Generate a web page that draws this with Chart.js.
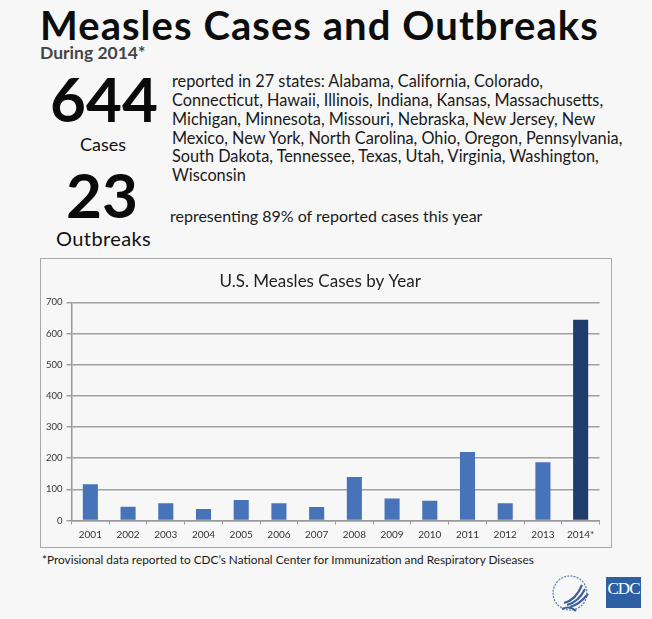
<!DOCTYPE html>
<html>
<head>
<meta charset="utf-8">
<script src="https://cdn.jsdelivr.net/npm/chart.js@4"></script>
<style>
  html, body { margin: 0; padding: 0; }
  body { width: 652px; height: 619px; background: #f7f7f7; position: relative; overflow: hidden; font-family: Lato, "Open Sans", sans-serif; color: #111; }
  .abs { position: absolute; white-space: nowrap; line-height: 1; }
  #title { left: 40px; top: 4.5px; font-size: 40px; font-weight: 700; letter-spacing: 1.05px; color: #0d0d0d; }
  #sub { left: 40px; top: 44px; font-size: 17.5px; font-weight: 700; color: #454545; }
  .big { font-size: 62px; font-weight: 700; color: #0a0a0a; }
  #n644 { left: 50px; top: 67px; }
  #n23 { left: 66px; top: 163px; }
  #cases { left: 80px; top: 135px; font-size: 18px; }
  #outb { left: 56px; top: 228px; font-size: 20px; letter-spacing: 0.4px; }
  #states { left: 172px; top: 72.3px; font-size: 16.3px; line-height: 18.8px; color: #1a1a1a; }
  #repr { left: 170px; top: 207.5px; font-size: 16px; color: #1a1a1a; }
  #box { left: 40px; top: 258px; width: 572px; height: 290px; border: 1.5px solid #a9a9a9; box-sizing: border-box; }
  #wrap { position: absolute; left: 0; top: 0; width: 569px; height: 287px; }
  #note { left: 42px; top: 554px; font-size: 11.8px; color: #1a1a1a; }
  #cdc { left: 606px; top: 577px; width: 35px; height: 31px; background: #2d5fa3; color: #fff; font-family: "Liberation Serif", serif; font-size: 17px; text-align: center; line-height: 24px; letter-spacing: -1px; }
</style>
</head>
<body>
<div class="abs" id="title">Measles Cases and Outbreaks</div>
<div class="abs" id="sub">During 2014*</div>
<div class="abs big" id="n644">644</div>
<div class="abs" id="cases">Cases</div>
<div class="abs big" id="n23">23</div>
<div class="abs" id="outb">Outbreaks</div>
<div class="abs" id="states">reported in 27 states: Alabama, California, Colorado,<br>Connecticut, Hawaii, Illinois, Indiana, Kansas, Massachusetts,<br>Michigan, Minnesota, Missouri, Nebraska, New Jersey, New<br>Mexico, New York, North Carolina, Ohio, Oregon, Pennsylvania,<br>South Dakota, Tennessee, Texas, Utah, Virginia, Washington,<br>Wisconsin</div>
<div class="abs" id="repr">representing 89% of reported cases this year</div>

<div class="abs" id="box"><div id="wrap"><canvas id="chart"></canvas></div></div>

<div class="abs" id="note">*Provisional data reported to CDC’s National Center for Immunization and Respiratory Diseases</div>

<svg class="abs" style="left:550px;top:573px" width="48" height="42" viewBox="0 0 48 42">
  <circle cx="20" cy="20" r="17" fill="none" stroke="#5b79aa" stroke-width="1.2" stroke-dasharray="2 1.2"/>
  <path d="M14 30 C22 28 28 22 32 12" fill="none" stroke="#3d5f9c" stroke-width="2.2"/>
  <path d="M17 32 C25 30 31 24 35 16" fill="none" stroke="#3d5f9c" stroke-width="2.2"/>
  <path d="M20 34 C28 32 33 27 38 21" fill="none" stroke="#3d5f9c" stroke-width="2.2"/>
  <path d="M12 36 C18 33 22 34 26 38" fill="none" stroke="#3d5f9c" stroke-width="2"/>
</svg>
<div class="abs" id="cdc">CDC</div>

<script>
const years = ['2001', '2002', '2003', '2004', '2005', '2006', '2007', '2008', '2009', '2010', '2011', '2012', '2013', '2014*'];
const cases = [116, 44, 55, 37, 66, 55, 43, 140, 71, 63, 220, 55, 187, 644];
const yTicks = [0, 100, 200, 300, 400, 500, 600, 700];

const ctx = document.getElementById('chart').getContext('2d');

new Chart(ctx, {
    type: 'bar',
    data: {
        labels: years,
        datasets: [{
            label: 'Cases',
            data: cases,
            // last year (provisional) is drawn darker
            backgroundColor: (c) => c.dataIndex === years.length - 1 ? '#1f3d6c' : '#4773b8',
            barPercentage: 0.4,
            categoryPercentage: 1.0
        }]
    },
    options: {
        responsive: true,
        maintainAspectRatio: false,
        animation: false,
        layout: { padding: { left: 0, right: 10.5, top: 0, bottom: 0 } },
        plugins: {
            legend: { display: false },
            tooltip: { enabled: false },
            title: {
                display: true,
                text: 'U.S. Measles Cases by Year',
                color: '#222',
                font: { family: 'Lato', size: 17, weight: 'normal' },
                padding: { top: 12, bottom: 11 }
            }
        },
        scales: {
            x: {
                grid: { drawOnChartArea: false, drawTicks: true, tickLength: 4, offset: true, color: '#9a9a9a', lineWidth: 1 },
                border: { color: '#9a9a9a', width: 1.5 },
                ticks: { color: '#333', font: { family: 'Lato', size: 10 }, padding: 4, maxRotation: 0 },
                afterFit: (s) => { s.height = 25.5; }
            },
            y: {
                min: 0,
                max: 700,
                afterBuildTicks: (s) => { s.ticks = yTicks.map(v => ({ value: v })); },
                grid: { color: '#a0a0a0', lineWidth: 1.5, tickLength: 5 },
                border: { color: '#9a9a9a', width: 1.5 },
                ticks: { color: '#333', font: { family: 'Lato', size: 9.5 }, padding: 4 },
                afterFit: (s) => { s.width = 30.5; }
            }
        }
    }
});
</script>
</body>
</html>
